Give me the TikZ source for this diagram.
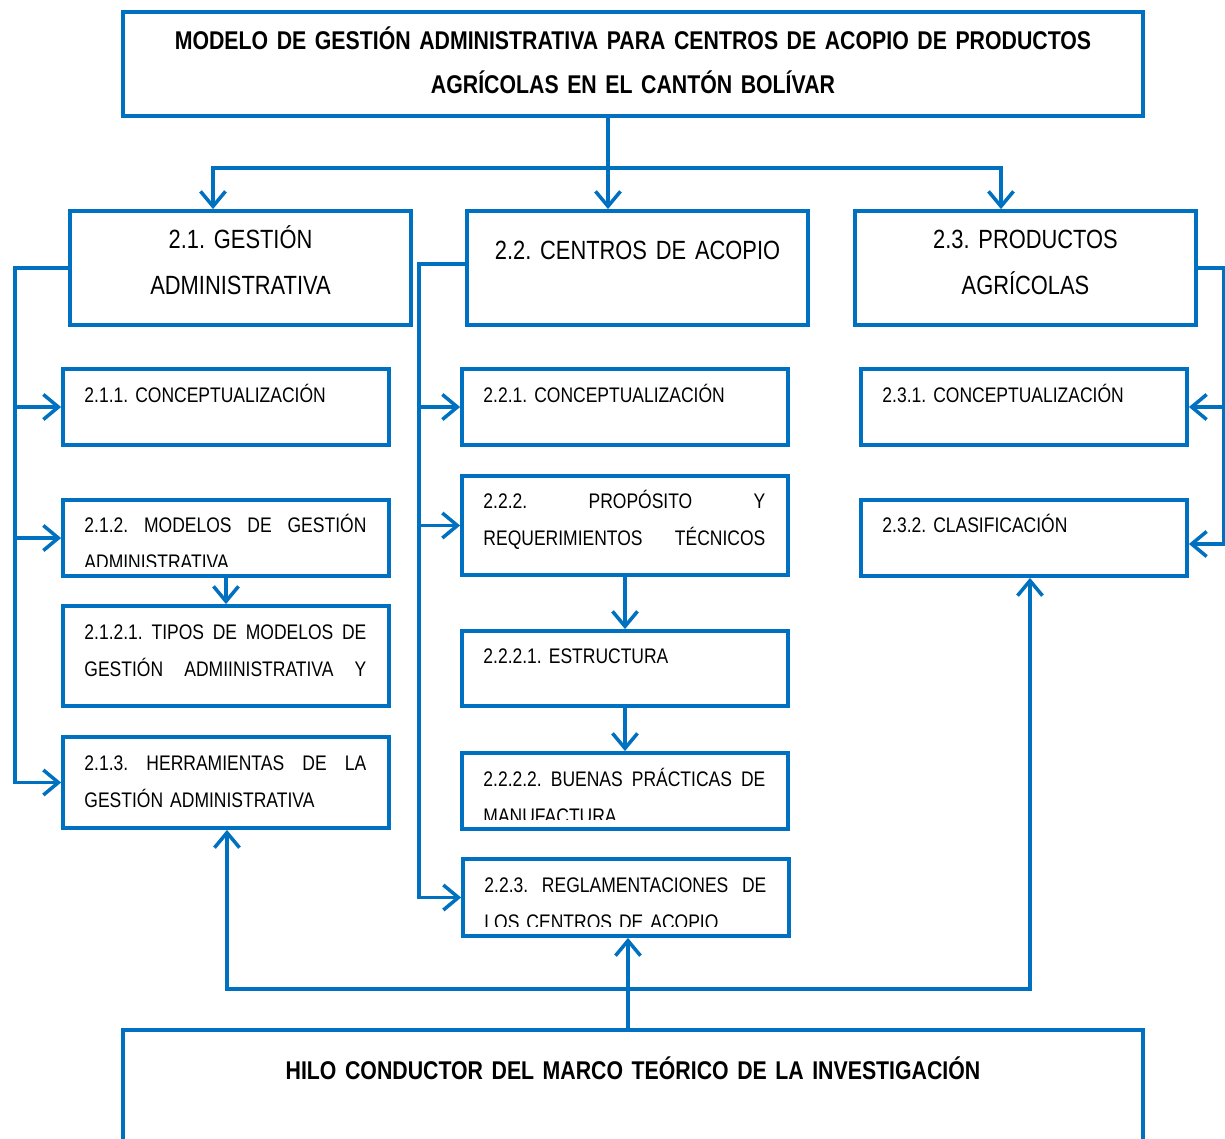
\documentclass[tikz,border=0pt]{standalone}
\usepackage{fontspec}
\newfontfamily\narrowfont[FakeStretch=0.83]{Liberation Sans}
\usetikzlibrary{arrows.meta}
\definecolor{boxblue}{RGB}{0,112,192}
\frenchspacing

\tikzset{
  box/.style={draw=boxblue, line width=2.2pt, fill=white, inner sep=0pt},
  link/.style={boxblue, line width=2pt},
  arr/.style={link, -{Straight Barb[length=0.3cm,width=0.5cm]}},
  txt/.style={anchor=base west, inner sep=0pt, text width=5.64cm, align=left,
    font=\narrowfont\fontsize{12}{21.5}\selectfont},
  headtxt/.style={anchor=base, inner sep=0pt, text width=6.6cm, align=center,
    font=\narrowfont\fontsize{15}{26.5}\selectfont},
  titletxt/.style={anchor=base, inner sep=0pt, text width=19.6cm, align=center,
    font=\narrowfont\bfseries\fontsize{14.6}{25}\selectfont},
}

\begin{document}
\begin{tikzpicture}[x=0.02cm, y=-0.02cm]
  \useasboundingbox (0,0) rectangle (1225,1139);
  % title, themes and closing box
  \node[box, minimum width=20.4cm, minimum height=2.08cm] (title) at (633,64) {};
  \node[box, minimum width=20.4cm, minimum height=2.6cm] (hilo) at (633,1095) {};
  \foreach \n/\x in {g21/240.5, g22/637.5, g23/1025.5}
    \node[box, minimum width=6.82cm, minimum height=2.28cm] (\n) at (\x,268) {};
  % sub-topic boxes
  \foreach \n/\x/\y/\h in {b211/226/407/1.52, b212/226/538/1.52, b2121/226/656/2.0, b213/226/782.5/1.82,
      b221/625/407/1.52, b222/625/525.5/1.98, b2221/625/668.5/1.5, b2222/625/791/1.52, b223/626/897.5/1.54,
      b231/1024/407/1.52, b232/1024/538/1.52}
    \node[box, minimum width=6.52cm, minimum height=\h cm] (\n) at (\x,\y) {};

  % texts
  \node[titletxt] (ttitle) at ([shift={(0,39)}]title.north) {MODELO DE GESTIÓN ADMINISTRATIVA PARA CENTROS DE ACOPIO DE PRODUCTOS\\AGRÍCOLAS EN EL CANTÓN BOLÍVAR};
  \node[titletxt] (thilo) at ([shift={(0,51)}]hilo.north) {HILO CONDUCTOR DEL MARCO TEÓRICO DE LA INVESTIGACIÓN};
  \node[headtxt] (tg21) at ([shift={(0,39)}]g21.north) {2.1. GESTIÓN\\ADMINISTRATIVA};
  \node[headtxt] (tg22) at ([shift={(0,50)}]g22.north) {2.2. CENTROS DE ACOPIO};
  \node[headtxt] (tg23) at ([shift={(0,39)}]g23.north) {2.3. PRODUCTOS\\AGRÍCOLAS};

  \node[txt] (t211) at ([shift={(23,35)}]b211.north west) {2.1.1. CONCEPTUALIZACIÓN};
  \begin{scope}
    \clip (b212.north west) rectangle ([yshift=0.22cm]b212.south east);
    \node[txt] (t212) at ([shift={(23,34)}]b212.north west) {2.1.2.\hfill MODELOS\hfill DE\hfill GESTIÓN\\ADMINISTRATIVA};
  \end{scope}
  \node[txt] (t2121) at ([shift={(23,35)}]b2121.north west) {2.1.2.1.\hfill TIPOS\hfill DE\hfill MODELOS\hfill DE\\GESTIÓN\hfill ADMIINISTRATIVA\hfill Y};
  \node[txt] (t213) at ([shift={(23,35)}]b213.north west) {2.1.3.\hfill HERRAMIENTAS\hfill DE\hfill LA\\GESTIÓN ADMINISTRATIVA};

  \node[txt] (t221) at ([shift={(23,35)}]b221.north west) {2.2.1. CONCEPTUALIZACIÓN};
  \node[txt] (t222) at ([shift={(23,34)}]b222.north west) {2.2.2.\hfill PROPÓSITO\hfill Y\\REQUERIMIENTOS\hfill TÉCNICOS};
  \node[txt] (t2221) at ([shift={(23,34)}]b2221.north west) {2.2.2.1. ESTRUCTURA};
  \begin{scope}
    \clip (b2222.north west) rectangle ([yshift=0.22cm]b2222.south east);
    \node[txt] (t2222) at ([shift={(23,35)}]b2222.north west) {2.2.2.2.\hfill BUENAS\hfill PRÁCTICAS\hfill DE\\MANUFACTURA};
  \end{scope}
  \begin{scope}
    \clip (b223.north west) rectangle ([yshift=0.22cm]b223.south east);
    \node[txt] (t223) at ([shift={(23,35)}]b223.north west) {2.2.3.\hfill REGLAMENTACIONES\hfill DE\\LOS CENTROS DE ACOPIO};
  \end{scope}

  \node[txt] (t231) at ([shift={(23,35)}]b231.north west) {2.3.1. CONCEPTUALIZACIÓN};
  \node[txt] (t232) at ([shift={(23,34)}]b232.north west) {2.3.2. CLASIFICACIÓN};

  % title to themes
  \coordinate (top) at (608,168);
  \coordinate (jl) at (213,168);
  \coordinate (jr) at (1001,168);
  \draw[arr] (title.south -| top) -- (top |- g22.north);
  \draw[arr] (top) -| (jl |- g21.north);
  \draw[arr] (top) -| (jr |- g23.north);

  % theme brackets
  \coordinate (l21) at (15,268);
  \draw[arr] (g21.west) -- (l21) |- (b213.west);
  \draw[arr] (l21 |- b211.west) -- (b211.west);
  \draw[arr] (l21 |- b212.west) -- (b212.west);
  \coordinate (l22) at (419,264);
  \draw[arr] (g22.west |- l22) -- (l22) |- (b223.west);
  \draw[arr] (l22 |- b221.west) -- (b221.west);
  \draw[arr] (l22 |- b222.west) -- (b222.west);
  \coordinate (r23) at (1224,268);
  \coordinate (r232) at (1224,544);
  \draw[arr] (g23.east) -- (r23) -- (r232) -- (r232 -| b232.east);
  \draw[arr] (r23 |- b231.east) -- (b231.east);

  % chains
  \draw[arr] (b212.south) -- (b2121.north);
  \draw[arr] (b222.south) -- (b2221.north);
  \draw[arr] (b2221.south) -- (b2222.north);

  % closing box to topics
  \coordinate (hm) at (628,989);
  \coordinate (hl) at (227,989);
  \coordinate (hr) at (1030,989);
  \draw[arr] (hm |- hilo.north) -- (hm |- b223.south);
  \draw[arr] (hm) -| (hl |- b213.south);
  \draw[arr] (hm) -| (hr |- b232.south);
\end{tikzpicture}
\end{document}
